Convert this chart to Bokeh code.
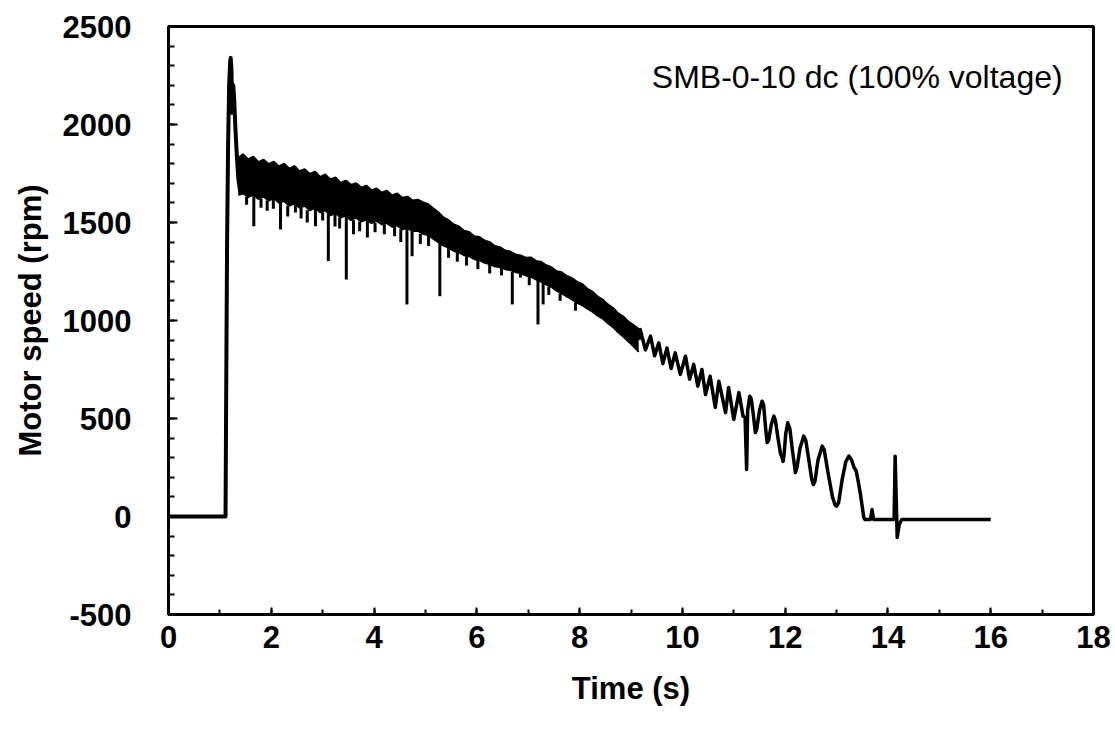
from bokeh.plotting import figure
from bokeh.models import SingleIntervalTicker, Label, Range1d, CustomJSTickFormatter
from bokeh.embed import file_html
from bokeh.resources import INLINE

# ---- data ----
# start-up trace: baseline, jump and overshoot peak
start_t = [0.0, 1.11, 1.12, 1.14, 1.16, 1.18, 1.20, 1.21, 1.225, 1.235, 1.225, 1.245, 1.26, 1.28, 1.30, 1.33, 1.36, 1.40]
start_v = [0, 0, 500, 1400, 1900, 2200, 2320, 2340, 2280, 2150, 2060, 2120, 2200, 2120, 1990, 1840, 1720, 1650]

# noisy running band (upper / lower envelope)
band_t = [1.36, 1.45, 1.55, 1.65, 1.75, 1.85, 1.95, 2.05, 2.15, 2.25, 2.35, 2.45, 2.55, 2.65,
          2.75, 2.85, 2.95, 3.05, 3.15, 3.25, 3.35, 3.45, 3.55, 3.65, 3.75, 3.85, 3.95, 4.05,
          4.15, 4.25, 4.35, 4.45, 4.55, 4.65, 4.75, 4.85, 4.95, 5.05, 5.15, 5.25, 5.35, 5.45,
          5.55, 5.65, 5.75, 5.85, 5.95, 6.05, 6.15, 6.25, 6.35, 6.45, 6.55, 6.65, 6.75, 6.85,
          6.95, 7.05, 7.15, 7.25, 7.35, 7.45, 7.55, 7.65, 7.75, 7.85, 7.95, 8.05, 8.15, 8.25,
          8.35, 8.45, 8.55, 8.65, 8.75, 8.85, 8.95, 9.05, 9.15]
band_upper = [1830, 1848, 1822, 1836, 1808, 1820, 1798, 1810, 1786, 1800, 1774, 1788, 1762, 1772,
              1748, 1760, 1732, 1745, 1720, 1730, 1702, 1714, 1692, 1700, 1678, 1688, 1664, 1674,
              1652, 1662, 1638, 1648, 1626, 1632, 1612, 1616, 1604, 1594, 1572, 1552, 1526, 1512,
              1490, 1480, 1458, 1452, 1430, 1426, 1408, 1400, 1380, 1374, 1357, 1352, 1337, 1332,
              1320, 1322, 1304, 1300, 1282, 1272, 1252, 1246, 1227, 1216, 1197, 1186, 1162, 1147,
              1122, 1106, 1082, 1064, 1037, 1020, 994, 977, 957]
band_lower = [1640, 1650, 1630, 1642, 1620, 1632, 1612, 1625, 1600, 1610, 1585, 1598, 1575, 1585,
              1562, 1575, 1552, 1562, 1536, 1548, 1525, 1535, 1512, 1525, 1505, 1515, 1497, 1508,
              1490, 1497, 1478, 1485, 1466, 1472, 1455, 1458, 1442, 1436, 1418, 1400, 1382, 1372,
              1355, 1348, 1333, 1328, 1313, 1308, 1294, 1288, 1277, 1271, 1262, 1257, 1247, 1241,
              1230, 1224, 1210, 1198, 1183, 1172, 1152, 1138, 1123, 1108, 1090, 1078, 1060, 1045,
              1025, 1010, 986, 966, 940, 918, 893, 868, 840]

# downward spikes out of the band
spike_t   = [1.66, 2.18, 2.47, 2.86, 3.11, 3.46, 3.87, 4.64, 4.74, 5.28, 6.69, 6.85, 7.19, 7.29,
             1.52, 1.80, 1.92, 2.04, 2.32, 2.58, 2.70, 3.00, 3.24, 3.33, 3.60, 3.72, 4.02, 4.20,
             4.40, 4.52, 4.90, 5.06, 5.45, 5.62, 5.80, 6.02, 6.25, 6.48, 7.02, 7.40, 7.62, 7.92]
spike_top = [1642, 1605, 1598, 1575, 1562, 1535, 1515, 1472, 1455, 1400, 1247, 1241, 1210, 1198,
             1632, 1620, 1612, 1625, 1585, 1575, 1562, 1552, 1548, 1525, 1512, 1505, 1497, 1490,
             1478, 1466, 1442, 1436, 1372, 1348, 1328, 1308, 1288, 1271, 1224, 1172, 1138, 1090]
spike_min = [1481, 1464, 1551, 1481, 1303, 1209, 1423, 1082, 1328, 1124, 1082, 1219, 980, 1082,
             1590, 1575, 1560, 1570, 1530, 1520, 1500, 1510, 1480, 1470, 1440, 1455, 1450, 1440,
             1430, 1400, 1390, 1380, 1320, 1300, 1280, 1262, 1240, 1230, 1180, 1130, 1100, 1050]

# oscillating run-down and stop
osc_t = [9.15, 9.18, 9.28, 9.38, 9.46, 9.54, 9.62, 9.70, 9.78, 9.86, 9.96, 10.06, 10.14, 10.22, 10.30,
         10.38, 10.45, 10.54, 10.64, 10.71, 10.84, 10.90, 11.00, 11.10, 11.18, 11.22, 11.25, 11.27,
         11.31, 11.34, 11.38, 11.42, 11.45, 11.50, 11.55, 11.58, 11.62, 11.65, 11.68, 11.73, 11.78,
         11.81, 11.86, 11.91, 11.94, 11.96, 11.98, 12.01, 12.05, 12.09, 12.14, 12.20, 12.23, 12.29,
         12.36, 12.40, 12.46, 12.52, 12.55, 12.58, 12.64, 12.72, 12.76, 12.83, 12.92, 12.97, 13.00,
         13.04, 13.11, 13.18, 13.24, 13.29, 13.34, 13.38, 13.42, 13.46, 13.50, 13.53, 13.55, 13.66,
         13.69, 13.72, 14.12, 14.14, 14.16, 14.18, 14.22, 14.27, 16.00]
osc_v = [900, 954, 850, 920, 820, 886, 780, 860, 755, 835, 725, 818, 700, 776, 665,
         750, 622, 716, 556, 690, 530, 658, 495, 632, 512, 505, 240, 540,
         614, 600, 520, 428, 450, 540, 588, 570, 450, 377, 390, 470, 512,
         490, 400, 320, 300, 281, 320, 420, 478, 450, 340, 224, 250, 350,
         410, 390, 290, 185, 163, 180, 290, 359, 340, 230, 100, 60, 53,
         70, 190, 280, 308, 290, 250, 235, 180, 122, 50, -5, -15, -15,
         36, -15, -15, 308, 100, -107, -40, -15, -15]

x_ticks_interval = 2
y_ticks_interval = 500
annotation = "SMB-0-10 dc (100% voltage)"

FONT = "Liberation Sans"

p = figure(width=1115, height=743, x_range=Range1d(0, 18), y_range=Range1d(-500, 2500),
           output_backend="svg", toolbar_location=None,
           min_border_left=168, min_border_right=22, min_border_top=26, min_border_bottom=129)

p.background_fill_color = "white"
p.border_fill_color = "white"
p.outline_line_color = "black"
p.outline_line_width = 3
p.xgrid.visible = False
p.ygrid.visible = False

# band
p.varea(x=band_t, y1=band_lower, y2=band_upper, fill_color="black")
p.line(band_t, band_upper, line_color="black", line_width=2)
p.line(band_t, band_lower, line_color="black", line_width=2)
p.segment(x0=spike_t, y0=spike_top, x1=spike_t, y1=spike_min, line_color="black", line_width=3)
p.line(start_t, start_v, line_color="black", line_width=4, line_join="round")
p.line(osc_t, osc_v, line_color="black", line_width=3.5, line_join="round")

p.add_layout(Label(x=17.4, y=2240, text=annotation, text_align="right", text_baseline="middle",
                   text_font=FONT, text_font_size="32px", text_color="black"))

p.xaxis.ticker = SingleIntervalTicker(interval=x_ticks_interval, num_minor_ticks=2)
p.yaxis.ticker = SingleIntervalTicker(interval=y_ticks_interval, num_minor_ticks=5)
fmt = CustomJSTickFormatter(code="return tick.toFixed(0);")
p.xaxis.formatter = fmt
p.yaxis.formatter = CustomJSTickFormatter(code="return tick.toFixed(0);")

for ax in (p.xaxis[0], p.yaxis[0]):
    ax.axis_line_width = 3
    ax.axis_line_color = "black"
    ax.major_tick_out = 0
    ax.minor_tick_out = 0
    ax.major_tick_line_width = 2
    ax.minor_tick_line_width = 2
    ax.major_label_text_font = FONT
    ax.major_label_text_font_size = "31px"
    ax.major_label_text_font_style = "bold"
    ax.major_label_text_color = "black"
    ax.axis_label_text_font = FONT
    ax.axis_label_text_font_size = "31px"
    ax.axis_label_text_font_style = "bold"
    ax.axis_label_text_color = "black"

p.xaxis.major_tick_in = 7
p.xaxis.minor_tick_in = 5
p.yaxis.major_tick_in = 9
p.yaxis.minor_tick_in = 6
p.xaxis.axis_label = "Time (s)"
p.yaxis.axis_label = "Motor speed (rpm)"
p.xaxis.major_label_standoff = 11
p.yaxis.major_label_standoff = 37
p.xaxis.axis_label_standoff = 20
p.yaxis.axis_label_standoff = 12

open("out.html", "w").write(file_html(p, INLINE))
